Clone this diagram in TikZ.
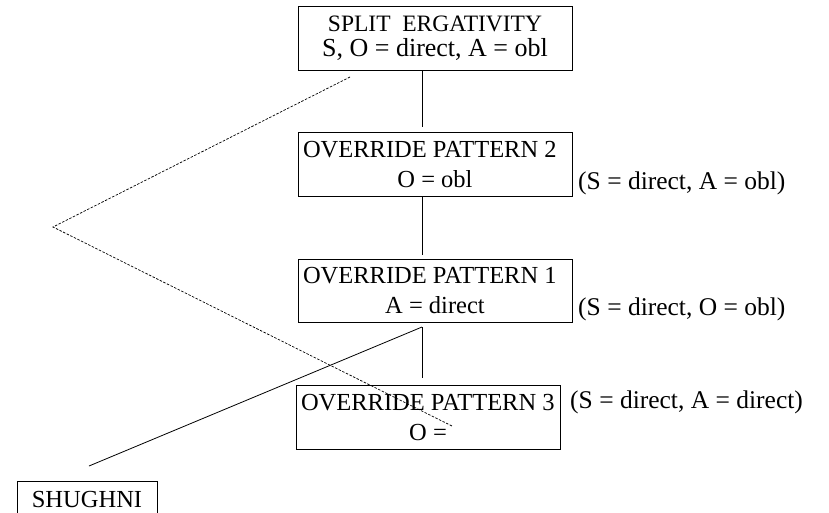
\documentclass[tikz,border=0pt]{standalone}
\usepackage{fontspec}
\setmainfont{Liberation Serif}
\usetikzlibrary{positioning}

\newcommand\headline[2][264pt]{\makebox[#1][l]{#2}}

\tikzset{
  patbox/.style={draw, line width=1pt, minimum width=274pt, minimum height=64pt,
    inner sep=0pt, align=center, font=\fontsize{24.5}{30}\selectfont},
  sidenote/.style={anchor=base west, inner sep=0pt, font=\fontsize{25.5}{28}\selectfont},
  link/.style={line width=0.8pt},
  hint/.style={line width=0.7pt, dash pattern=on 2.5pt off 1.5pt},
}

\begin{document}
\begin{tikzpicture}[x=1pt, y=-1pt]
 \useasboundingbox (0,0) rectangle (829,512);
 % the four pattern boxes
 \node[patbox, font=\fontsize{23.5}{25}\selectfont] (split) at (435,38)
   {SPLIT\ \ ERGATIVITY\\{\fontsize{26}{25}\selectfont S, O = direct, A = obl}};
 \node[patbox] (ovr2) at (435,164.5) {\headline{OVERRIDE PATTERN 2}\\O = obl};
 \node[patbox, minimum height=63pt] (ovr1) at (435,291) {\headline{OVERRIDE PATTERN 1}\\A = direct};
 \node[patbox, minimum width=264pt] (ovr3) at (428,417) {\headline[254pt]{OVERRIDE PATTERN 3}\\O =};
 \node[patbox, minimum width=140pt, minimum height=0pt, inner ysep=10pt, anchor=north]
   (shughni) at (87,481) {SHUGHNI};
 %
 \node[sidenote] (rest2) at (578,189) {(S = direct, A = obl)};
 \node[sidenote] (rest1) at (578,315) {(S = direct, O = obl)};
 \node[sidenote] (rest3) at (570,408) {(S = direct, A = direct)};
 %
 \coordinate (t2) at (422,127);
 \coordinate (t1) at (422,255);
 \coordinate (s1) at (422,327);
 \coordinate (t3) at (422,378);
 \coordinate (sh) at (89,466);
 \coordinate (d0) at (350,77);
 \coordinate (d1) at (53,227);
 \coordinate (d2) at (452,426);
 %
 \draw[link] (t2 |- split.south) -- (t2);
 \draw[link] (t1 |- ovr2.south) -- (t1);
 \draw[link] (s1) -- (t3);
 \draw[link] (s1) -- (sh);
 \draw[hint] (d0) -- (d1) -- (d2);
\end{tikzpicture}
\end{document}
